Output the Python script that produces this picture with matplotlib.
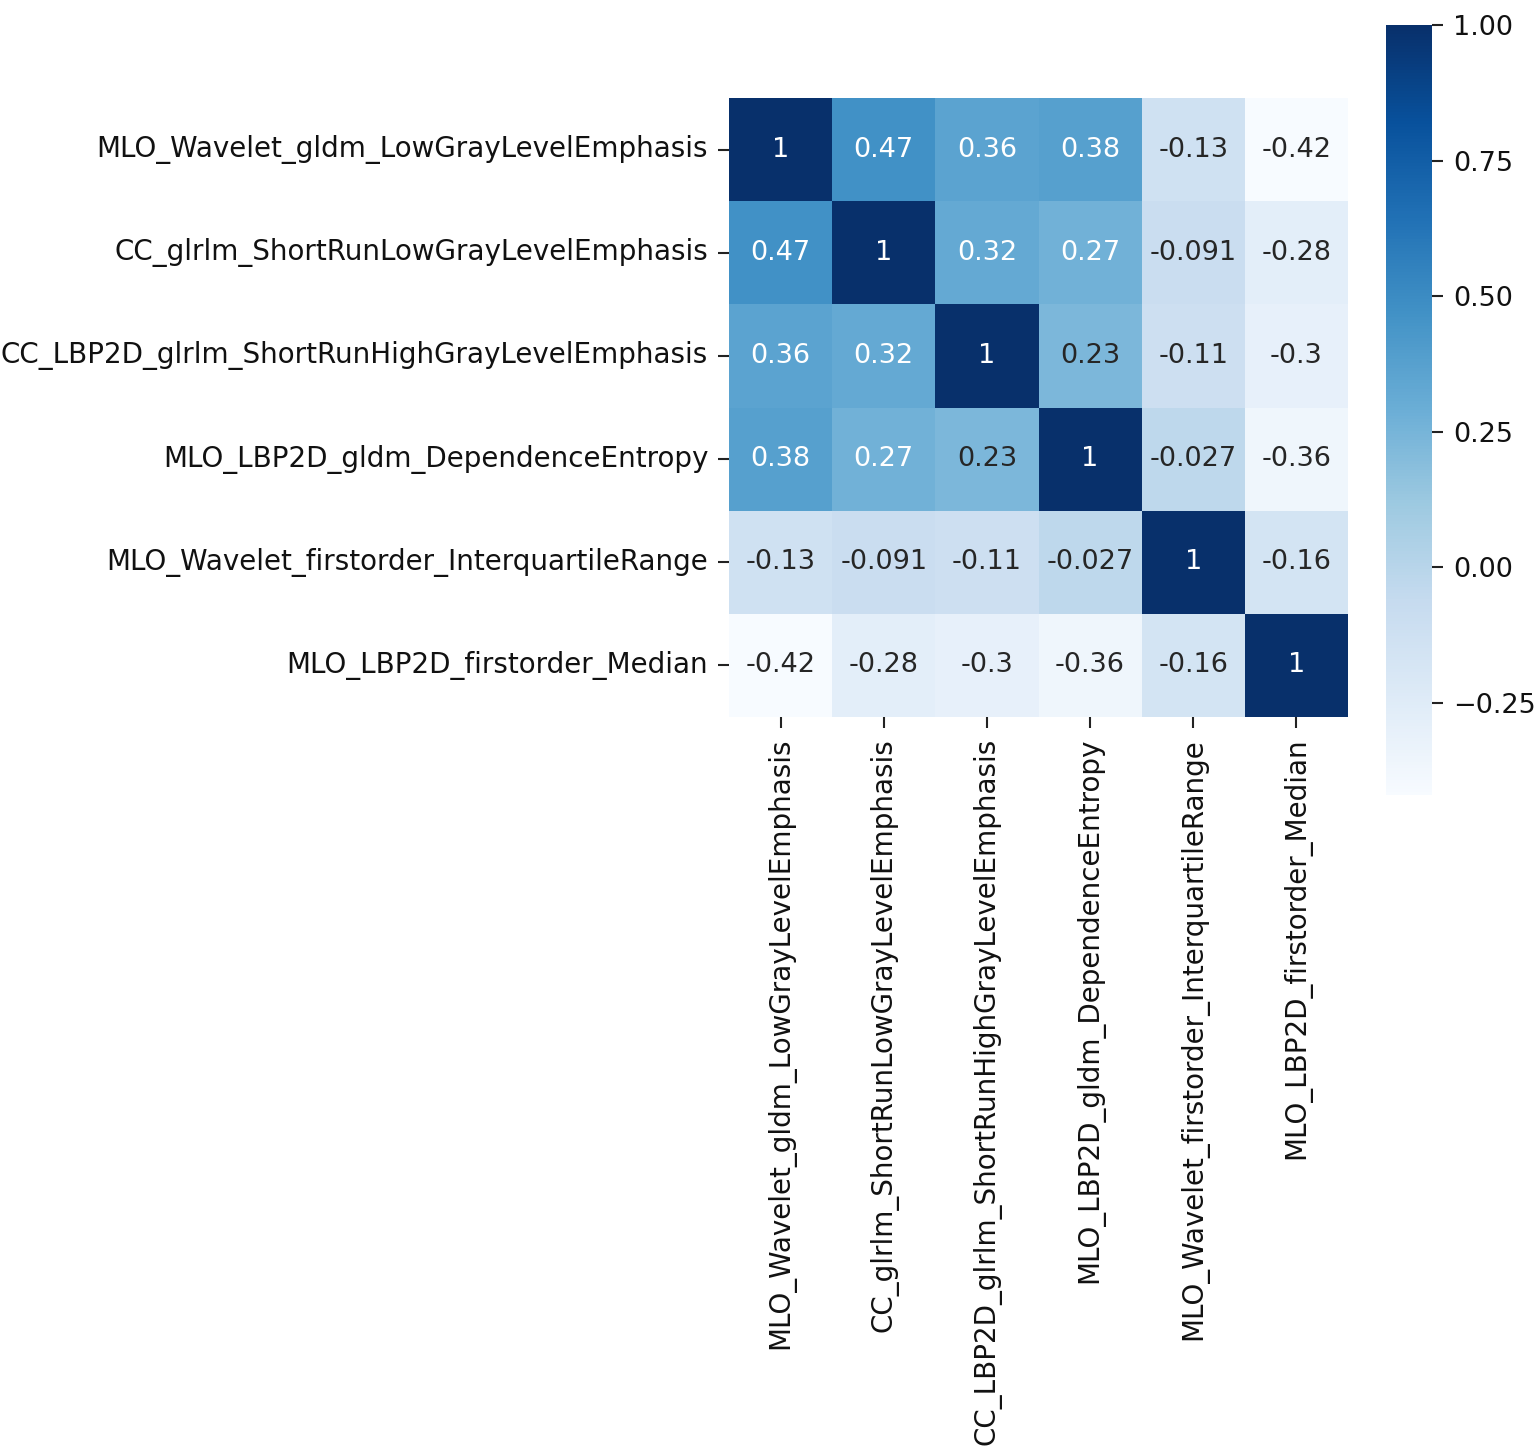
import numpy as np
import matplotlib
matplotlib.use("Agg")
import matplotlib.pyplot as plt
import seaborn as sns

labels = [
    "MLO_Wavelet_gldm_LowGrayLevelEmphasis",
    "CC_glrlm_ShortRunLowGrayLevelEmphasis",
    "CC_LBP2D_glrlm_ShortRunHighGrayLevelEmphasis",
    "MLO_LBP2D_gldm_DependenceEntropy",
    "MLO_Wavelet_firstorder_InterquartileRange",
    "MLO_LBP2D_firstorder_Median",
]

row0 = [1, 0.47, 0.36, 0.38, -0.13, -0.42]
row1 = [0.47, 1, 0.32, 0.27, -0.091, -0.28]
row2 = [0.36, 0.32, 1, 0.23, -0.11, -0.3]
row3 = [0.38, 0.27, 0.23, 1, -0.027, -0.36]
row4 = [-0.13, -0.091, -0.11, -0.027, 1, -0.16]
row5 = [-0.42, -0.28, -0.3, -0.36, -0.16, 1]

cbar_ticks = [-0.25, 0, 0.25, 0.5, 0.75, 1.0]
cbar_ticklabels = ["\u22120.25", "0.00", "0.25", "0.50", "0.75", "1.00"]

corr = np.array([row0, row1, row2, row3, row4, row5])

fig = plt.figure(figsize=(15.35, 14.53), dpi=100)
ax = fig.add_axes([729/1535, 1 - 717/1453, 619/1535, 619/1453])
cax = fig.add_axes([1386/1535, 1 - 795/1453, 46/1535, 770/1453])

sns.heatmap(corr, annot=True, cmap="Blues", ax=ax, cbar_ax=cax,
            xticklabels=labels, yticklabels=labels,
            annot_kws={"fontsize": 19.5})

ax.tick_params(axis="both", labelsize=20, length=8, width=1.5, pad=7,
               color="#222222", labelcolor="#111111")
ax.set_xticklabels(labels, rotation=90)
ax.set_yticklabels(labels, rotation=0)
cax.tick_params(labelsize=19.5, length=8, width=1.5, pad=7,
                color="#222222", labelcolor="#111111")
cax.set_yticks(cbar_ticks)
cax.set_yticklabels(cbar_ticklabels)

fig.savefig("out.png", dpi=100)
